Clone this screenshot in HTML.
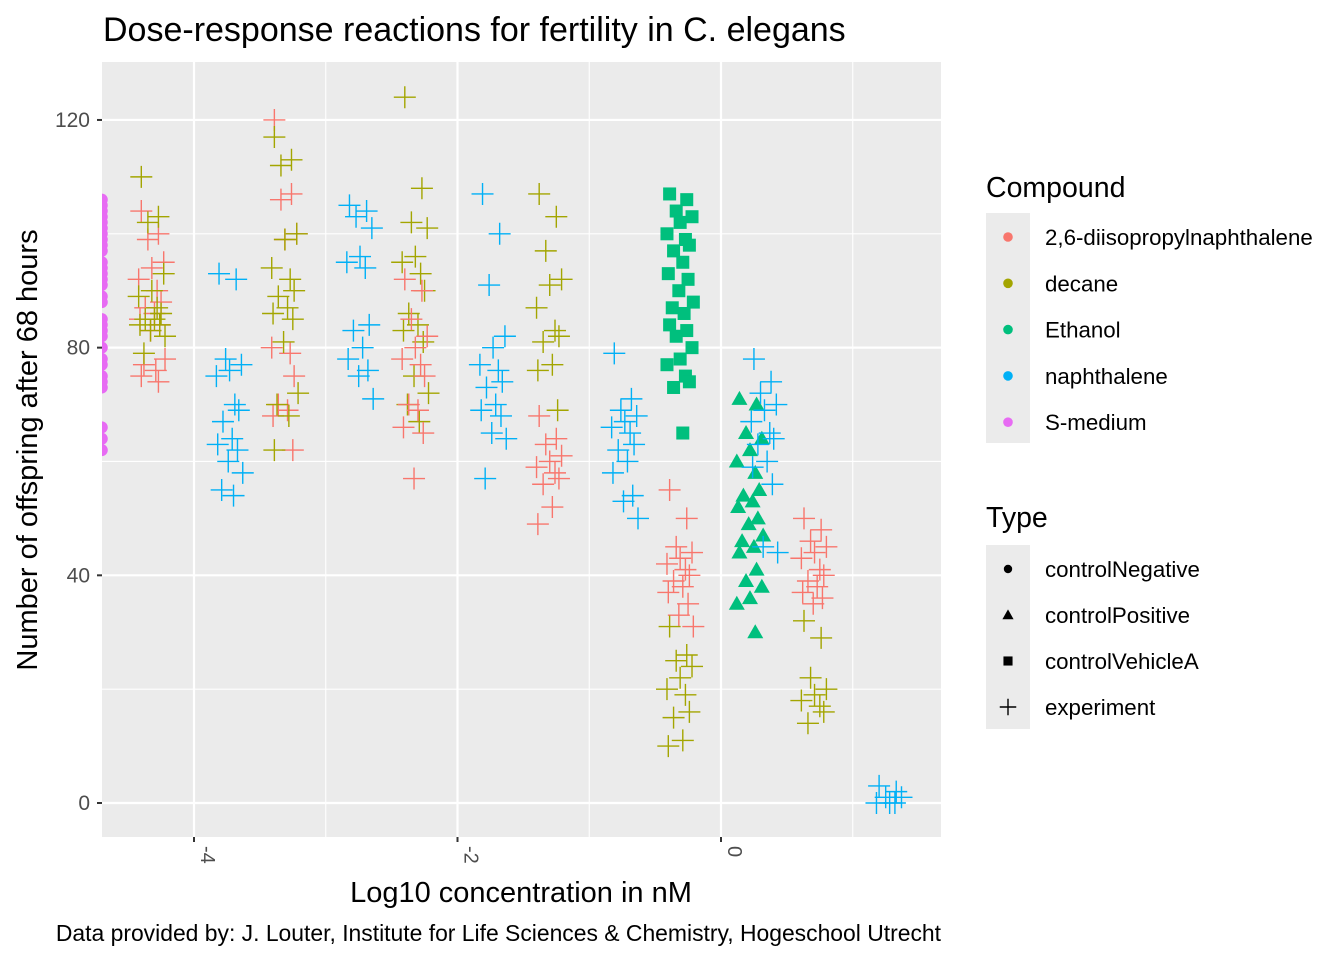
<!DOCTYPE html>
<html><head><meta charset="utf-8"><style>
body{margin:0;background:#fff}
svg{font-family:"Liberation Sans",Arial,sans-serif}
</style></head><body>
<svg id="chart" width="1344" height="960" xmlns="http://www.w3.org/2000/svg">
<rect width="1344" height="960" fill="#fff"/>
<text x="103" y="41" font-size="34" fill="#000">Dose-response reactions for fertility in C. elegans</text>
<rect x="102" y="62" width="839" height="775" fill="#ebebeb"/>
<g id="grid"></g>
<defs><clipPath id="clip"><rect x="102" y="62" width="839" height="775"/></clipPath></defs>
<g id="marks" clip-path="url(#clip)"></g>
<g id="axes"></g>
<text x="521" y="902" font-size="29" text-anchor="middle">Log10 concentration in nM</text>
<text transform="translate(37,450) rotate(-90)" font-size="29" text-anchor="middle">Number of offspring after 68 hours</text>
<text x="941" y="941" font-size="22.9" text-anchor="end">Data provided by: J. Louter, Institute for Life Sciences &amp; Chemistry, Hogeschool Utrecht</text>
<g id="legend"></g>
</svg>
<script>
const xTicks=[-4,-2,0];
const xMinor=[-5,-3,-1,1];
const yTicks=[0,40,80,120];
const yMinor=[20,60,100];
const compounds=["2,6-diisopropylnaphthalene","decane","Ethanol","naphthalene","S-medium"];
const compoundColors=["#F8766D","#A3A500","#00BF7D","#00B0F6","#E76BF3"];
const types=["controlNegative","controlPositive","controlVehicleA","experiment"];
const groupX=[-4.70,-4.32,-4.32,-3.73,-3.31,-3.31,-2.74,-2.32,-2.32,-1.73,-1.3,-1.3,-0.73,-0.31,-0.31,-0.31,0.22,0.33,0.71,0.71,1.28];
const groupCompound=[4,0,1,3,0,1,3,1,0,3,1,0,3,2,0,1,2,3,0,1,3];
const groupType=[0,3,3,3,3,3,3,3,3,3,3,3,3,2,3,3,1,3,3,3,3];
const groupY=[
[106,105,104,103,102,101,100,99,98,97,95,94,93,92,91,89,88,85,84,83,82,80,78,77,75,74,73,66,64,62],
[104,100,99,95,94,92,90,88,87,86,85,84,83,78,77,76,75,74],
[110,103,102,93,90,89,87,86,85,85,84,84,83,82,79],
[93,92,78,77,76,75,70,69,67,64,63,62,60,58,55,54],
[120,107,106,100,99,80,79,75,70,69,68,62],
[117,113,112,100,99,94,92,90,89,87,86,85,81,72,70,68,62],
[105,104,103,101,96,95,94,84,83,80,78,76,75,71],
[124,108,102,101,96,95,93,90,86,84,83,81,75,72,70,67],
[92,90,85,82,80,78,77,75,70,69,66,65,57],
[107,100,91,82,80,77,76,74,73,70,69,68,65,64,57],
[107,103,97,92,91,87,83,82,81,77,76,69],
[68,64,63,61,60,59,58,57,56,52,49],
[79,71,69,68,67,66,65,63,62,60,58,54,53,50],
[107,106,104,103,102,100,99,98,97,95,93,92,90,88,87,86,84,83,82,80,78,77,75,74,73,65],
[55,50,45,44,43,42,41,40,39,38,37,35,33,31],
[31,26,25,24,22,20,19,16,15,11,10],
[71,70,65,64,62,60,58,55,54,53,52,50,49,47,46,45,44,41,39,38,36,35,30],
[78,74,72,70,69,67,65,64,63,60,59,56,45,44],
[50,48,46,45,44,43,41,40,39,38,37,36,35],
[32,29,22,20,19,18,17,16,14],
[3,2,1,1,0,0,0]
];
const jitter=[-0.08,0.05,-0.03,0.09,0.0,-0.1,0.04,0.07,-0.05,0.02,-0.09,0.06,-0.01,0.1,-0.06,0.03];
const NS="http://www.w3.org/2000/svg";
const X0=102,X1=941,Y0=62,Y1=837;
function sx(v){return 721+v*131.75;}
function sy(v){return 803-v*5.692;}
function mk(tag,attrs,parent){const e=document.createElementNS(NS,tag);for(const k in attrs)e.setAttribute(k,attrs[k]);parent.appendChild(e);return e;}
const grid=document.getElementById('grid');
xMinor.forEach(v=>{const l=mk('line',{x1:sx(v),x2:sx(v),y1:Y0,y2:Y1,stroke:'#fff','stroke-width':1.1},grid);});
yMinor.forEach(v=>{const l=mk('line',{x1:X0,x2:X1,y1:sy(v),y2:sy(v),stroke:'#fff','stroke-width':1.1},grid);});
xTicks.forEach(v=>{const l=mk('line',{x1:sx(v),x2:sx(v),y1:Y0,y2:Y1,stroke:'#fff','stroke-width':2.2},grid);});
yTicks.forEach(v=>{const l=mk('line',{x1:X0,x2:X1,y1:sy(v),y2:sy(v),stroke:'#fff','stroke-width':2.2},grid);});
const axes=document.getElementById('axes');
xTicks.forEach(v=>{
 const t=mk('line',{x1:sx(v),x2:sx(v),y1:Y1,y2:Y1+5,stroke:'#333','stroke-width':2},axes);
 
 const tx=mk('text',{transform:`translate(${sx(v)+7},${Y1+9}) rotate(90)`,'font-size':20,fill:'#4d4d4d'},axes);
 tx.textContent=String(v);
 
});
yTicks.forEach(v=>{
 const t=mk('line',{x1:X0-5,x2:X0,y1:sy(v),y2:sy(v),stroke:'#333','stroke-width':2},axes);
 
 const tx=mk('text',{x:X0-12,y:sy(v)+7,'font-size':21,fill:'#4d4d4d','text-anchor':'end'},axes);
 tx.textContent=String(v);
 
});
function drawShape(parent,type,cx,cy,col,scale){
 scale=scale||1;let e;
 if(type===0){e=mk('circle',{cx:cx,cy:cy,r:6*scale,fill:col},parent);}
 else if(type===1){const s=8*scale;e=mk('polygon',{points:`${cx},${cy-s} ${cx+s},${cy+s*0.75} ${cx-s},${cy+s*0.75}`,fill:col},parent);}
 else if(type===2){const s=6.5*scale;e=mk('rect',{x:cx-s,y:cy-s,width:2*s,height:2*s,fill:col},parent);}
 else {const s=11*scale;e=mk('path',{d:`M${cx-s},${cy}H${cx+s}M${cx},${cy-s}V${cy+s}`,stroke:col,'stroke-width':1.4,fill:'none'},parent);}
 return e;
}
const marks=document.getElementById('marks');
groupY.forEach((ys,g)=>{
 const col=compoundColors[groupCompound[g]];
 ys.forEach((y,i)=>{
  const j=groupType[g]===0?0:jitter[i%jitter.length];
  const e=drawShape(marks,groupType[g],sx(groupX[g]+j),sy(y),col);
  
  
 });
});
const leg=document.getElementById('legend');
const ct=mk('text',{x:986,y:197,'font-size':28.5},leg);ct.textContent='Compound';

const kb=mk('rect',{x:986,y:213,width:44,height:230,fill:'#ebebeb'},leg);

compounds.forEach((c,i)=>{
 const y=237+i*46.3;
 const d=drawShape(leg,0,1008,y,compoundColors[i],0.8);
 
 const t=mk('text',{x:1045,y:y+8,'font-size':22.3},leg);t.textContent=c;
 
});
const tt=mk('text',{x:986,y:527,'font-size':28.5},leg);tt.textContent='Type';

const kb2=mk('rect',{x:986,y:545,width:44,height:184,fill:'#ebebeb'},leg);

types.forEach((c,i)=>{
 const y=569+i*46;
 const d=drawShape(leg,i,1008,y,'#000',i===3?0.75:0.7);
 
 const t=mk('text',{x:1045,y:y+8,'font-size':22.3},leg);t.textContent=c;
 
});
</script>
</body></html>
